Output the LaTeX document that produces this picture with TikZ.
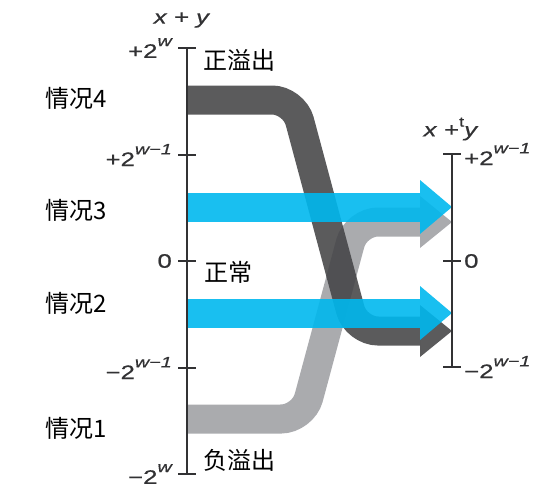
\documentclass[tikz,border=0pt]{standalone}
\usepackage{fontspec}
\setmainfont{Liberation Sans}
\newfontfamily\axisfont[FakeStretch=1.32,FakeBold=0.6]{Liberation Sans}
\newfontfamily\cjk{Noto Sans CJK SC}
\usepackage{tikz}
\usetikzlibrary{positioning,calc}
\usepackage{xcolor}
\definecolor{bandblue}{RGB}{0,184,238}
\definecolor{banddark}{RGB}{68,68,70}
\definecolor{bandgray}{RGB}{158,159,163}
\definecolor{axisgray}{RGB}{50,50,52}
\newcommand{\supw}[1]{\raisebox{0.6em}{\fontsize{15}{15}\selectfont\itshape #1}}
\tikzset{
  axisline/.style={draw=axisgray, line width=2.2pt},
  ticklbl/.style={font=\axisfont\fontsize{19.5}{22}\selectfont, text=axisgray, inner sep=1pt},
  caselbl/.style={font=\cjk\fontsize{24}{27}\selectfont, inner sep=0pt, anchor=west},
  band/.style={line width=29pt, rounded corners=22pt, line cap=butt, opacity=0.88},
}

\begin{document}
\begin{tikzpicture}[x=1pt, y=-1pt]
    \useasboundingbox (0,0) rectangle (560,496);

    % Bands (gray, dark, blue)
    \draw[band, bandgray] (187,419) -- (303,419) -- (356,222) -- (420,222);
    \fill[bandgray, opacity=0.88] (420,196) -- (452,222) -- (420,248) -- cycle;
    \draw[band, banddark] (187,100) -- (294,100) -- (356,331) -- (420,331);
    \fill[banddark, opacity=0.88] (420,305) -- (452,331) -- (420,357) -- cycle;
    \foreach \y in {207, 313} {
        \draw[band, bandblue, opacity=0.9] (187,\y) -- (420,\y);
        \fill[bandblue, opacity=0.9] (420,\y-27) -- (452,\y) -- (420,\y+27) -- cycle;
    }

    % Left axis: x + y
    \coordinate (ltop) at (187,48);
    \coordinate (lbot) at (187,474);
    \draw[axisline] (ltop) -- (lbot);
    \node[ticklbl] (lname) at (182,20) {\textit{x}\hspace{0.35em}+\hspace{0.35em}\textit{y}};
    \foreach \y/\t [count=\i] in {48/{+2\supw{w}}, 155/{+2\supw{w−1}},
                                  261/{0}, 368/{−2\supw{w−1}}, 474/{−2\supw{w}}} {
        \draw[axisline] (178,\y) -- (196,\y);
        \node[ticklbl, anchor=east] (lt\i) at (173,\y) {\t};
    }

    % Right axis: x +t y
    \coordinate (rtop) at (452,154);
    \coordinate (rbot) at (452,367);
    \draw[axisline] (rtop) -- (rbot);
    \node[ticklbl] (rname) at (451,129) {\textit{x}\hspace{0.35em}+\raisebox{0.5em}{\fontsize{14}{14}\selectfont t}\textit{y}};
    \foreach \y/\t [count=\i] in {154/{+2\supw{w−1}}, 261/{0}, 367/{−2\supw{w−1}}} {
        \draw[axisline] (443,\y) -- (461,\y);
        \node[ticklbl, anchor=west] (rt\i) at (463,\y) {\t};
    }

    % Cases
    \node[caselbl] (c4) at (45,98) {情况4};
    \node[caselbl] (c3) at (45,210) {情况3};
    \node[caselbl] (c2) at (45,303) {情况2};
    \node[caselbl] (c1) at (45,428) {情况1};
    \node[caselbl] (pos) at (203,60) {正溢出};
    \node[caselbl] (norm) at (204,272) {正常};
    \node[caselbl] (neg) at (203,460) {负溢出};
\end{tikzpicture}
\end{document}
